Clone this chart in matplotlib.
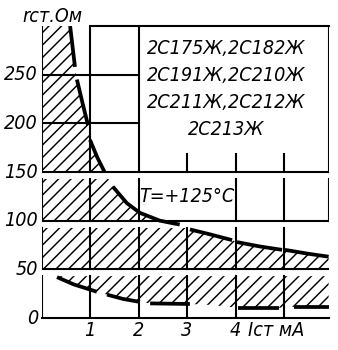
#Grafico r_ст(I_ст) para estabilitrones 2С175Ж ... 2С213Ж
import matplotlib
matplotlib.use('Agg')
import matplotlib.pyplot as plt
from matplotlib.patches import Polygon, Rectangle

plt.rcParams['font.family'] = ['DejaVu Sans']
plt.rcParams['font.stretch'] = 'condensed'
plt.rcParams['hatch.linewidth'] = 0.7
plt.rcParams['hatch.color'] = 'black'

#Datos (curva superior en tramos, curva inferior en tramos)
curva_sup_x = [[0.59, 0.69], [0.73, 0.85, 0.96], [1.0, 1.15, 1.3],
               [1.47, 1.76, 2.03, 2.44, 2.85], [3.06, 3.47, 3.93],
               [4.03, 4.5, 4.96], [5.02, 5.5, 5.92]]
curva_sup_y = [[300, 258], [245, 220, 198], [183, 165, 150],
               [135, 118, 108, 100, 96], [91, 86, 80],
               [78, 73.5, 70], [70, 66, 63]]
curva_inf_x = [[0.32, 0.66, 1.14], [1.35, 1.69, 2.03], [2.24, 3.06],
               [3.5], [4.05, 4.9], [5.2, 5.92]]
curva_inf_y = [[42, 34.6, 27], [24, 19.5, 16.5], [15, 14.4],
               [13.4], [10.5, 10.5], [11.5, 11.5]]
tramo_inf_visible = [True, True, True, False, True, True]

ticks_y = [0, 50, 100, 150, 200, 250]
ticks_x = [1, 2, 3, 4]
tipos = ['2С175Ж,2С182Ж', '2С191Ж,2С210Ж', '2С211Ж,2С212Ж', '2С213Ж']
temperatura = 'T=+125°C'

#Bandas (tiras) separadas por huecos blancos
bandas = [(0, 43), (50, 92), (100, 143), (150, 300)]
x_max = 5.92

fig = plt.figure(figsize=(338 / 150, 350 / 150), dpi=150)
ax = fig.add_axes([41.5 / 338, 32 / 350, (x_max * 48.5) / 338, 292 / 350])
ax.set_xlim(0, x_max)
ax.set_ylim(0, 300)
ax.axis('off')

lw = 1.0
rayado = '////'

#Rayado debajo de la curva superior
pts_sup = [(0, 300)]
for xs, ys in zip(curva_sup_x, curva_sup_y):
    pts_sup += list(zip(xs, ys))
pts_sup += [(x_max, 0), (0, 0)]
for lo, hi in bandas[1:]:
    p = Polygon(pts_sup, closed=True, fill=False, hatch=rayado, linewidth=0)
    ax.add_patch(p)
    p.set_clip_path(Rectangle((0, lo), x_max, hi - lo, transform=ax.transData))

#Rayado encima de la curva inferior (banda de abajo)
pts_inf = []
for xs, ys in zip(curva_inf_x, curva_inf_y):
    pts_inf += list(zip(xs, ys))
pts_inf += [(x_max, 43), (curva_inf_x[0][0], 43)]
p = Polygon(pts_inf, closed=True, fill=False, hatch=rayado, linewidth=0)
ax.add_patch(p)

#Curvas
for xs, ys in zip(curva_sup_x, curva_sup_y):
    ax.plot(xs, ys, color='black', lw=1.8, solid_capstyle='butt')
for xs, ys, vis in zip(curva_inf_x, curva_inf_y, tramo_inf_visible):
    if vis:
        ax.plot(xs, ys, color='black', lw=1.8, solid_capstyle='butt')

#Lineas de la cuadricula
for lo, hi in bandas:
    ax.plot([0, 0], [lo, hi], color='black', lw=lw)
    ax.plot([1, 1], [lo, hi], color='black', lw=lw)
    ax.plot([2, 2], [lo, hi], color='black', lw=lw)
for lo, hi in bandas[:2]:
    ax.plot([3, 3], [lo, hi], color='black', lw=lw)
for lo, hi in bandas[:3]:
    ax.plot([4, 4], [lo, hi], color='black', lw=lw)
    ax.plot([5, 5], [lo, hi], color='black', lw=lw)
for lo, hi in bandas[2:]:
    ax.plot([x_max, x_max], [lo, hi], color='black', lw=lw)
for xv in [3, 4, 5]:
    ax.plot([xv, xv], [150, 168], color='black', lw=lw)

ax.plot([0, x_max], [0, 0], color='black', lw=lw, clip_on=False)
for yv in [50, 100, 150]:
    ax.plot([0, x_max], [yv, yv], color='black', lw=lw)
for yv in [200, 250]:
    ax.plot([0, 2], [yv, yv], color='black', lw=lw)
ax.plot([1, x_max], [300, 300], color='black', lw=lw, clip_on=False)

#Textos
fs = 9.4
for v in ticks_y:
    ax.text(-0.07, v, str(v), ha='right', va='center', fontsize=fs, style='italic')
for v in ticks_x:
    ax.text(v, -13, str(v), ha='center', va='center', fontsize=fs, style='italic')
ax.text(4.25, -13, 'Iст мА', ha='left', va='center', fontsize=fs, style='italic')
ax.text(-0.4, 300, 'rст.Ом', ha='left', va='bottom', fontsize=fs, style='italic',
        clip_on=False)

for i, t in enumerate(tipos):
    ax.text(3.8, 277 - i * 27.7, t, ha='center', va='center', fontsize=fs, style='italic')
ax.text(3.0, 125, temperatura, ha='center', va='center', fontsize=fs, style='italic')

fig.savefig('out.png', dpi=150)
plt.close(fig)
